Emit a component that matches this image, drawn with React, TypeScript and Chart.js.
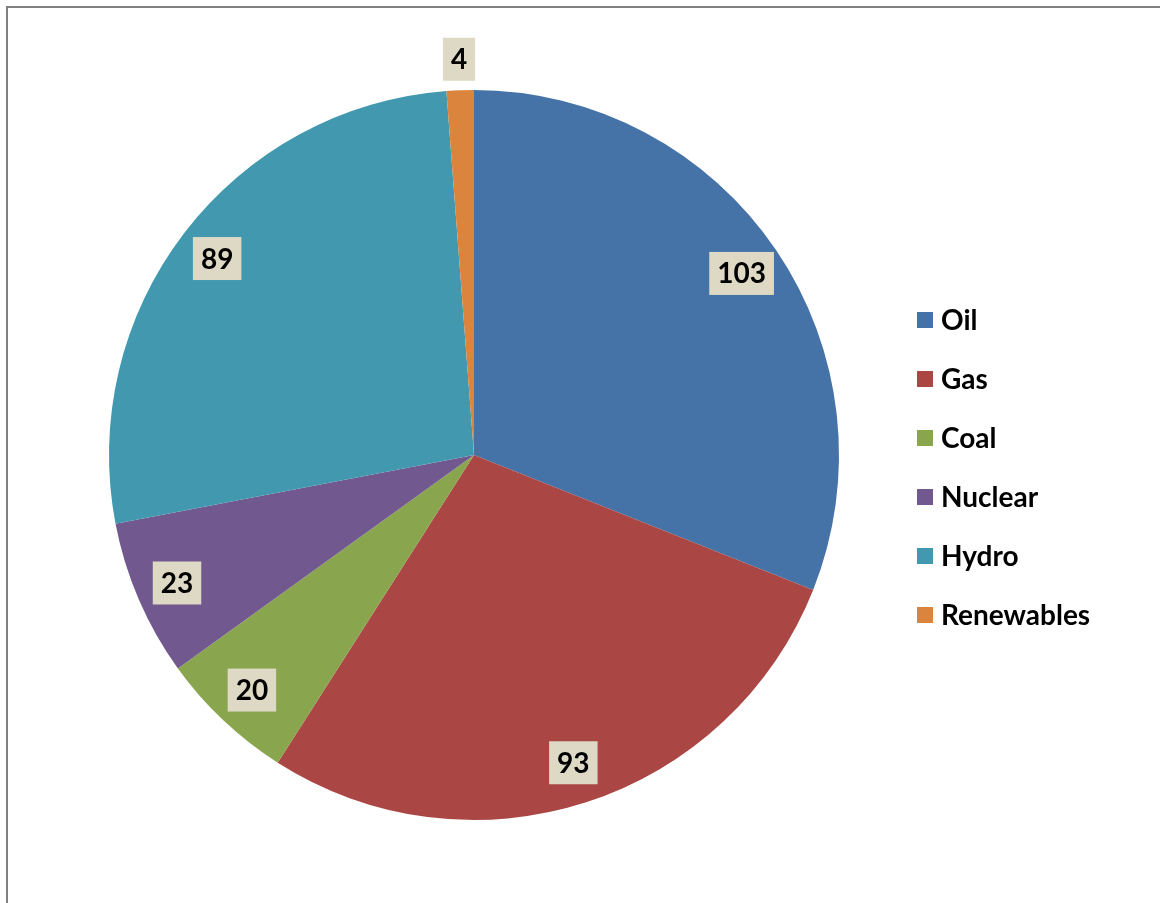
import React, { useEffect, useRef } from "react";
import { Chart, registerables } from "chart.js";

Chart.register(...registerables);

const categories = ["Oil", "Gas", "Coal", "Nuclear", "Hydro", "Renewables"];
const values = [103, 93, 20, 23, 89, 4];
const colors = ["#4572A7", "#AA4643", "#89A54E", "#71588F", "#4198AF", "#DB843D"];

const FONT = "Lato, 'Open Sans', sans-serif";

const labelPlugin = {
  id: "boxLabels",
  afterDatasetsDraw(chart: any) {
    const ctx = chart.ctx;
    const meta = chart.getDatasetMeta(0);
    const data = chart.data.datasets[0].data as number[];
    const total = data.reduce((a: number, b: number) => a + b, 0);
    ctx.save();
    ctx.font = `bold 28px ${FONT}`;
    ctx.textAlign = "center";
    ctx.textBaseline = "middle";
    meta.data.forEach((arc: any, i: number) => {
      const { x, y, startAngle, endAngle, outerRadius } = arc.getProps(
        ["x", "y", "startAngle", "endAngle", "outerRadius"],
        true
      );
      const mid = (startAngle + endAngle) / 2;
      const frac = data[i] / total;
      const r = frac < 0.03 ? outerRadius * 1.085 : outerRadius * 0.886;
      const cx = x + Math.cos(mid) * r;
      const cy = y + Math.sin(mid) * r;
      const text = String(data[i]);
      const w = ctx.measureText(text).width + 16;
      const h = 43;
      ctx.fillStyle = "#DDD9C4";
      ctx.fillRect(cx - w / 2, cy - h / 2, w, h);
      ctx.fillStyle = "#000000";
      ctx.fillText(text, cx, cy + 1);
    });
    ctx.restore();
  },
};

const legendPlugin = {
  id: "sideLegend",
  afterDraw(chart: any) {
    const ctx = chart.ctx;
    const labels = chart.data.labels as string[];
    const bg = chart.data.datasets[0].backgroundColor as string[];
    const boxX = 917;
    const textX = 941;
    const firstY = 320;
    const step = 59;
    ctx.save();
    ctx.font = `bold 28px ${FONT}`;
    ctx.textAlign = "left";
    ctx.textBaseline = "middle";
    labels.forEach((lab, i) => {
      const yc = firstY + i * step;
      ctx.fillStyle = bg[i];
      ctx.fillRect(boxX, yc - 8, 16, 16);
      ctx.fillStyle = "#000000";
      ctx.fillText(lab, textX, yc + 1);
    });
    ctx.restore();
  },
};

export default function App() {
  const ref = useRef<HTMLCanvasElement | null>(null);
  useEffect(() => {
    if (!ref.current) return;
    const chart = new Chart(ref.current, {
      type: "pie",
      data: {
        labels: categories,
        datasets: [
          {
            data: values,
            backgroundColor: colors,
            borderWidth: 0,
          },
        ],
      },
      options: {
        responsive: false,
        animation: false,
        layout: { padding: { left: 109, right: 321, top: 90, bottom: 83 } },
        plugins: {
          tooltip: { enabled: false },
          legend: { display: false },
        },
      },
      plugins: [labelPlugin, legendPlugin],
    });
    return () => chart.destroy();
  }, []);
  return (
    <div style={{ position: "absolute", left: 0, top: 0, width: 1160, height: 903, background: "#fff" }}>
      <div
        style={{
          position: "absolute",
          left: 6,
          top: 6,
          width: 1154,
          height: 897,
          borderLeft: "2px solid #808080",
          borderTop: "2px solid #808080",
          boxSizing: "border-box",
        }}
      />
      <canvas ref={ref} width={1160} height={903} style={{ position: "absolute", left: 0, top: 0 }} />
    </div>
  );
}
